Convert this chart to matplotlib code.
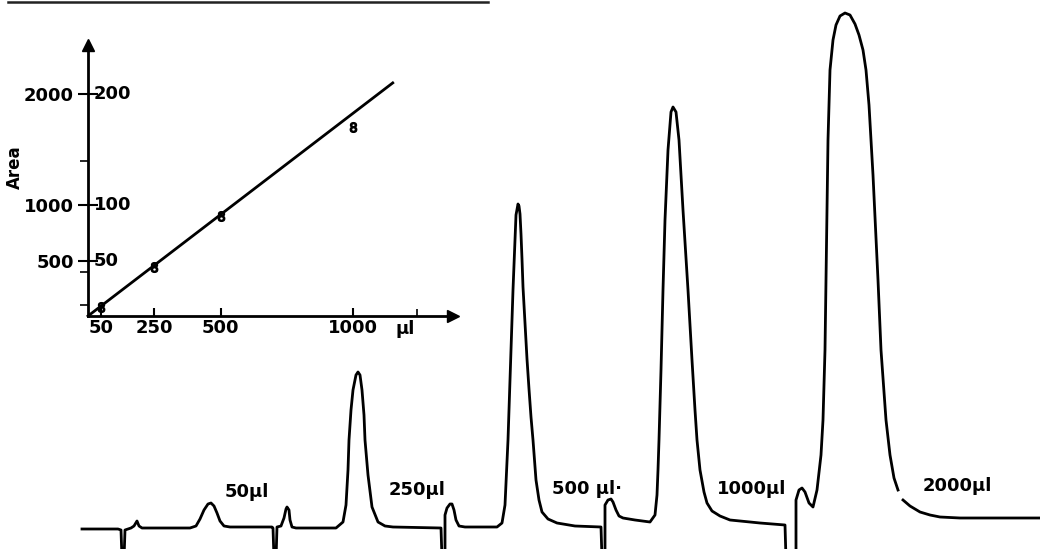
import matplotlib
matplotlib.use("Agg")
import matplotlib.pyplot as plt
import matplotlib.transforms as mtransforms

# chromatogram trace (time in px, signal in px above bottom)
# part 1: from start to the tail of the 2000 ul peak (pen lifts after it)
trace_t = [82, 118, 121, 122, 124, 125, 131, 134, 137, 139, 142,
           190, 196, 200, 204, 208, 211, 214, 217, 220, 224, 230,
           272, 273, 274, 276, 277, 281, 284, 286, 287, 289, 290, 292, 296,
           336, 343, 346, 348, 349, 351, 353, 356, 358, 360, 362, 364, 365, 368, 372, 378, 385, 393,
           441, 442, 445, 445, 447, 450, 452, 454, 456, 459, 465,
           497, 502, 505, 508, 510, 512, 513, 515, 516, 518, 519, 520, 521, 522, 523, 525, 527, 529, 531, 533,
           536, 539, 542, 548, 557, 575,
           601, 602, 605, 605, 608, 611, 613, 616, 619, 623, 635,
           650, 655, 657, 658, 659, 661, 663, 665, 668, 671, 673, 676, 679, 683, 688, 692, 695, 697, 700, 704, 707,
           712, 720, 730, 760,
           785, 786, 796, 796, 799, 802, 805, 809, 813,
           817, 821, 823, 825, 826, 828, 830, 831, 833, 836, 840, 845, 850, 855, 859, 863, 866, 869, 873, 878,
           881, 886, 890, 894, 898]
trace_s = [20, 20, 19, -10, -10, 19, 21, 23, 28, 23, 21,
           21, 23, 30, 39, 45, 46, 43, 36, 28, 23, 22,
           22, 21, -10, -10, 22, 23, 31, 40, 42, 39, 29, 22, 21,
           21, 27, 44, 79, 109, 139, 159, 174, 177, 174, 159, 134, 109, 74, 42, 27, 23, 22,
           21, -10, -10, 34, 41, 45, 45, 39, 29, 23, 22,
           22, 26, 44, 109, 169, 229, 259, 309, 334, 345, 343, 335, 315, 290, 262, 225, 190, 160, 132, 109,
           69, 49, 37, 30, 26, 23,
           22, -10, -10, 44, 49, 50, 47, 39, 33, 31, 29,
           27, 34, 54, 79, 109, 179, 259, 329, 399, 437, 442, 437, 409, 339, 259, 189, 139, 109, 79, 57, 46,
           38, 33, 29, 26,
           24, -10, -10, 49, 59, 61, 57, 46, 42,
           59, 94, 129, 199, 269, 409, 479, 489, 509, 524, 533, 536, 534, 525, 514, 499, 479, 444, 374, 269,
           199, 129, 94, 71, 59]
# part 2: the tail after the pen gap
tail_t = [903, 910, 920, 930, 940, 960, 1040]
tail_s = [49, 43, 37, 34, 32, 31, 31]

peak_labels = ["50µl", "250µl", "500 µl·", "1000µl", "2000µl"]
label_t = [247, 417, 587, 752, 957]
label_s = [57, 59, 60, 60, 63]

# calibration inset
cal_ul = [50, 250, 500, 1000]
cal_area = [80, 440, 900, 1700]
fit_ul = [0, 1150]
fit_area = [0, 2100]
area_ticks = [500, 1000, 2000]
area_labels = ["500", "1000", "2000"]
area_labels2 = ["50", "100", "200"]
area_minor = [100, 400, 1400]
ul_ticks = [50, 250, 500, 1000]
ul_minor = [1240]

rule_x = [8, 488]
rule_y = [547, 547]

W, H = 1040, 549
fig = plt.figure(figsize=(W / 100, H / 100), dpi=100)
fig.patch.set_facecolor("white")

ax = fig.add_axes([0, 0, 1, 1])
ax.set_xlim(0, W)
ax.set_ylim(0, H)
ax.axis("off")
ax.plot(trace_t, trace_s, color="black", lw=2.0, solid_joinstyle="round")
ax.plot(tail_t, tail_s, color="black", lw=2.0)
ax.plot(rule_x, rule_y, color="#222222", lw=1.8)
for lab, t, s in zip(peak_labels, label_t, label_s):
    ax.text(t, s, lab, ha="center", va="center", fontsize=13, fontweight="bold")

# inset: area vs injected volume
x0, y0 = 88, 316
sx, sy = 0.265, 0.111
ax_in = fig.add_axes([x0 / W, (H - y0) / H, (453 - x0) / W, (y0 - 45) / H])
ax_in.set_xlim(0, (453 - x0) / sx)
ax_in.set_ylim(0, (y0 - 45) / sy)
ax_in.patch.set_alpha(0)
for side in ["top", "right"]:
    ax_in.spines[side].set_visible(False)
for side in ["left", "bottom"]:
    ax_in.spines[side].set_linewidth(2)
ax_in.plot(1, 0, ">k", ms=8, transform=ax_in.get_yaxis_transform(), clip_on=False)
ax_in.plot(0, 1, "^k", ms=8, transform=ax_in.get_xaxis_transform(), clip_on=False)

ax_in.plot(fit_ul, fit_area, color="black", lw=2, clip_on=False)
ax_in.plot(cal_ul, cal_area, linestyle="none", marker="$8$", ms=7, color="black")

ax_in.set_yticks(area_ticks)
ax_in.set_yticklabels(area_labels)
ax_in.set_yticks(area_minor, minor=True)
ax_in.tick_params(axis="y", which="major", direction="inout", length=14, width=1.5, pad=3,
                  labelsize=13)
ax_in.tick_params(axis="y", which="minor", direction="out", length=6, width=1.2)
for lbl in ax_in.get_yticklabels():
    lbl.set_fontweight("bold")

trans = mtransforms.offset_copy(
    mtransforms.blended_transform_factory(ax_in.transAxes, ax_in.transData),
    fig=fig, x=6, y=0, units="dots")
for v, lab in zip(area_ticks, area_labels2):
    ax_in.text(0, v, lab, transform=trans, ha="left", va="center", fontsize=13, fontweight="bold")

ax_in.set_xticks(ul_ticks)
ax_in.set_xticks(ul_minor, minor=True)
ax_in.set_xticklabels([str(v) for v in ul_ticks])
ax_in.tick_params(axis="x", which="major", direction="in", length=6, width=1.5, pad=2, labelsize=13)
ax_in.tick_params(axis="x", which="minor", direction="in", length=5, width=1.2)
for lbl in ax_in.get_xticklabels():
    lbl.set_fontweight("bold")

trans_x = mtransforms.offset_copy(
    mtransforms.blended_transform_factory(ax_in.transData, ax_in.transAxes),
    fig=fig, x=0, y=-4, units="dots")
ax_in.text((405 - x0) / sx, 0, "µl", transform=trans_x, ha="center", va="top",
           fontsize=13, fontweight="bold")

fig.text(15 / W, 1 - 167 / H, "Area", rotation=90, ha="center", va="center",
         fontsize=12, fontweight="bold")

fig.savefig("out.png", dpi=100, facecolor="white")
